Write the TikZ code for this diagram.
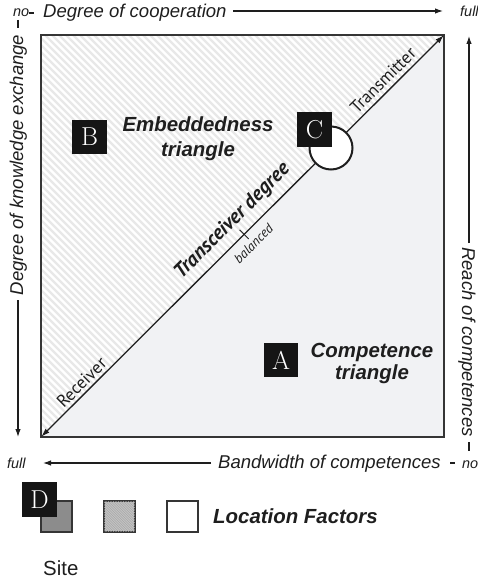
\documentclass[tikz,border=0pt]{standalone}
\usepackage{fontspec}
\setsansfont{Liberation Sans}
\newfontfamily\diagfont{PT Sans}
\usetikzlibrary{arrows.meta}
\definecolor{ink}{HTML}{1E1E1E}
\definecolor{lowfill}{HTML}{F1F2F4}
\definecolor{stripecol}{HTML}{E8E8E8}
\definecolor{boxblk}{HTML}{151515}
\definecolor{sitegray}{HTML}{8C8C8C}
\definecolor{hatchgray}{HTML}{C4C4C4}
\definecolor{hatchline}{HTML}{A6A6A6}
\begin{document}
\begin{tikzpicture}[x=1bp,y=-1bp,
 axlabel/.style={font=\sffamily\itshape\fontsize{18.6}{22}\selectfont, text=ink, inner sep=0},
 endlabel/.style={font=\sffamily\itshape\fontsize{14.5}{16}\selectfont, text=ink, inner sep=0},
 axline/.style={draw=ink, line width=1.1bp},
 axarrow/.style={axline, -{Latex[length=8bp,width=5.5bp]}},
 tri/.style={font=\sffamily\bfseries\itshape\fontsize{20.5}{25}\selectfont, text=ink, align=center, inner sep=0},
 letterbox/.style={fill=boxblk, text=white, minimum size=34.5bp, inner sep=0, font=\rmfamily\fontsize{26}{26}\selectfont},
 diaglbl/.style={font=\diagfont\fontsize{17.5}{18}\selectfont, text=ink, rotate=45, inner sep=0},
 locsq/.style={draw=ink!90, line width=1.2bp, minimum size=31bp, inner sep=0},
]
\useasboundingbox (0,0) rectangle (478,583);
% corners
\coordinate (TL) at (41,35);
\coordinate (TR) at (444,35);
\coordinate (BL) at (41,437);
\coordinate (BR) at (444,437);
% lower-right triangle
\fill[lowfill] (BL) -- (TR) -- (BR) -- cycle;
% upper-left hatched triangle
\fill[white] (TL) -- (TR) -- (BL) -- cycle;
\begin{scope}
 \clip (TL) -- (TR) -- (BL) -- cycle;
 \foreach \k in {-380,-373,...,450} \draw[stripecol, line width=2.3bp] (\k,30) -- ++(420,420);
\end{scope}
% frame
\draw[draw=ink!90, line width=1.6bp] (TL) rectangle (BR);
% diagonal
\draw[ink, line width=1.3bp, {Latex[length=9bp,width=5.5bp]}-{Latex[length=9bp,width=5.5bp]}] (BL) -- (TR);
% tick
\coordinate (tickA) at (239.5,229.8);
\coordinate (tickB) at (248.7,239);
\draw[ink, line width=0.8bp] (tickA) -- (tickB);
% diagonal labels
\node[diaglbl] (transmitter) at (383,80.3) {Transmitter};
\node[diaglbl] (receiver) at (81.5,382.5) {Receiver};
\node[diaglbl, font=\diagfont\bfseries\itshape\fontsize{20.5}{21}\selectfont] (tdeg) at (232.5,221.2) {Transceiver degree};
\node[diaglbl, font=\diagfont\itshape\fontsize{13.5}{14}\selectfont] (balanced) at (253.5,243.8) {balanced};
% circle C
\node[circle, draw=ink, line width=2bp, fill=white, minimum size=43bp, inner sep=0] (circC) at (331,148) {};
% triangle labels
\node[tri] (emb) at (198,138.5) {Embeddedness\\triangle};
\node[tri, font=\sffamily\bfseries\itshape\fontsize{20.5}{22}\selectfont] (comp) at (372,363.5) {Competence\\triangle};
% letter boxes
\node[letterbox] (boxA) at (281,360) {A};
\node[letterbox] (boxB) at (89.5,137) {B};
\node[letterbox] (boxC) at (314.5,129.5) {C};
% top axis
\node[endlabel, anchor=base west] (noTL) at (13,16.5) {no};
\node[axlabel, anchor=base west] (coop) at (43,17.3) {Degree of cooperation};
\node[endlabel, anchor=base west] (fullTR) at (460,17) {full};
\coordinate (topDashA) at (29,13);
\coordinate (topDashB) at (34,13);
\draw[axline] (topDashA) -- (topDashB);
\coordinate (topStart) at (233,11);
\coordinate (topTip) at (443,11);
\draw[axarrow] (topStart) -- (topTip);
% left axis
\coordinate (leftDashA) at (18,20);
\coordinate (leftDashB) at (18,28);
\draw[axline] (leftDashA) -- (leftDashB);
\node[axlabel, rotate=90, anchor=base] (know) at (23,165) {Degree of knowledge exchange};
\coordinate (leftStart) at (18,300);
\coordinate (leftTip) at (18,437);
\draw[axarrow] (leftStart) -- (leftTip);
% right axis
\node[axlabel, rotate=-90, anchor=base] (reach) at (462,342) {Reach of competences};
\coordinate (rightStart) at (469,243);
\coordinate (rightTip) at (469,36);
\draw[axarrow] (rightStart) -- (rightTip);
\coordinate (rightDashA) at (469,442);
\coordinate (rightDashB) at (469,451);
\draw[axline] (rightDashA) -- (rightDashB);
% bottom axis
\node[endlabel, anchor=base west] (fullBL) at (7,468) {full};
\coordinate (botStart) at (211,463);
\coordinate (botTip) at (43,463);
\draw[axarrow] (botStart) -- (botTip);
\node[axlabel, anchor=base west] (band) at (218,468.3) {Bandwidth of competences};
\coordinate (botDashA) at (450,463);
\coordinate (botDashB) at (455,463);
\draw[axline] (botDashA) -- (botDashB);
\node[endlabel, anchor=base west] (noBR) at (462,468) {no};
% location factors
\node[locsq, fill=sitegray] (sq1) at (56.5,516.5) {};
\node[locsq, fill=hatchgray] (sq2) at (119.5,516.5) {};
\begin{scope}
 \clip (104,501) rectangle (135,532);
 \foreach \k in {60,62.5,...,140} \draw[hatchline, line width=0.5bp] (\k,498) -- ++(40,40);
\end{scope}
\draw[draw=ink!90, line width=1.2bp] (sq2.north west) rectangle (sq2.south east);
\node[locsq, fill=white] (sq3) at (182.5,516.5) {};
\node[letterbox] (boxD) at (39.5,499.5) {D};
\node[font=\sffamily\bfseries\itshape\fontsize{20.5}{22}\selectfont, text=ink, inner sep=0, anchor=base west] (loc) at (213,523) {Location Factors};
\node[font=\sffamily\fontsize{20.5}{22}\selectfont, text=ink, inner sep=0, anchor=base west] (site) at (43,575.5) {Site};
\end{tikzpicture}
\end{document}
